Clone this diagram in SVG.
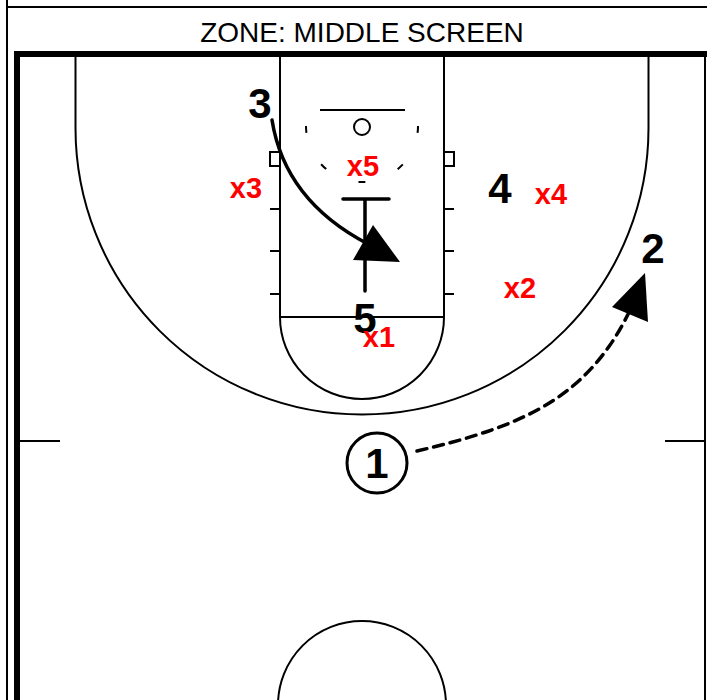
<svg xmlns="http://www.w3.org/2000/svg" width="707" height="700" viewBox="0 0 707 700">
<style>
.ln{fill:none;stroke:#000;stroke-width:2}
.thick{fill:none;stroke:#000;stroke-width:6}
.off{font-family:"Liberation Sans",Arial,sans-serif;font-weight:bold;font-size:42px;fill:#000;text-anchor:middle}
.def{font-family:"Liberation Sans",Arial,sans-serif;font-weight:bold;font-size:29px;fill:#ff0000;text-anchor:middle}
.title{font-family:"Liberation Sans",Arial,sans-serif;font-size:28px;fill:#000;text-anchor:middle}
.mv{fill:none;stroke:#000;stroke-width:3.5;stroke-linecap:round}
.ah{fill:#000;stroke:none}
</style>
<rect width="707" height="700" fill="#fff"/>
<g id="court">
<line class="ln" x1="7" y1="0" x2="7" y2="700" stroke-width="1.5"/>
<line class="ln" x1="7" y1="7" x2="707" y2="7" stroke-width="1.5"/>
<text class="title" x="362" y="42">ZONE: MIDDLE SCREEN</text>
<polyline class="thick" points="17,700 17,54 707,54"/>
<line class="ln" x1="705" y1="54" x2="705" y2="700"/>
<path class="ln" d="M75.5,57 V128 A286.5,286.5 0 0 0 648.5,128 V57"/>
<path class="ln" d="M280,57 V317 M444,57 V317 M280,317 H444"/>
<path class="ln" d="M280,317 A82,82 0 0 0 444,317"/>
<line class="ln" x1="320" y1="110" x2="405" y2="110"/>
<circle class="ln" cx="362" cy="127" r="8"/>
<path class="ln" d="M418,126 A56,56 0 0 1 306,126" stroke-width="2.5" stroke-dasharray="7 35.2"/>
<rect class="ln" x="270" y="152" width="10" height="14"/>
<rect class="ln" x="444" y="152" width="10" height="14"/>
<path class="ln" d="M270,209 H280 M270,251 H280 M270,294 H280 M444,209 H454 M444,251 H454 M444,294 H454"/>
<path class="ln" d="M20,441 H60 M665,441 H705"/>
<circle class="ln" cx="362" cy="705" r="84"/>
</g>
<g id="connectors">
<path class="mv" d="M272,120 C282,183 322,220 368,244"/>
<polygon class="ah" points="373,225 400,262 353,260"/>
<path class="mv" d="M365,291 V199 M343,199 H389" stroke-width="4.5"/>
<path class="mv" d="M417,451 C524,426 590,397 632,306" stroke-dasharray="10 7" stroke-linecap="butt"/>
<polygon class="ah" points="645,273 648,322 612,307"/>
</g>
<g id="p3"><text class="off" x="260" y="118">3</text></g>
<g id="p4"><text class="off" x="500" y="203">4</text></g>
<g id="p2"><text class="off" x="653" y="263">2</text></g>
<g id="p5"><text class="off" x="365" y="333">5</text></g>
<g id="p1"><circle cx="377" cy="463" r="30" fill="#fff" stroke="#000" stroke-width="3"/><text class="off" x="377" y="478">1</text></g>
<g id="x5"><text class="def" x="363" y="176">x5</text></g>
<g id="x3"><text class="def" x="246" y="198">x3</text></g>
<g id="x4"><text class="def" x="551" y="204">x4</text></g>
<g id="x2"><text class="def" x="520" y="298">x2</text></g>
<g id="x1"><text class="def" x="379" y="347">x1</text></g>
</svg>
